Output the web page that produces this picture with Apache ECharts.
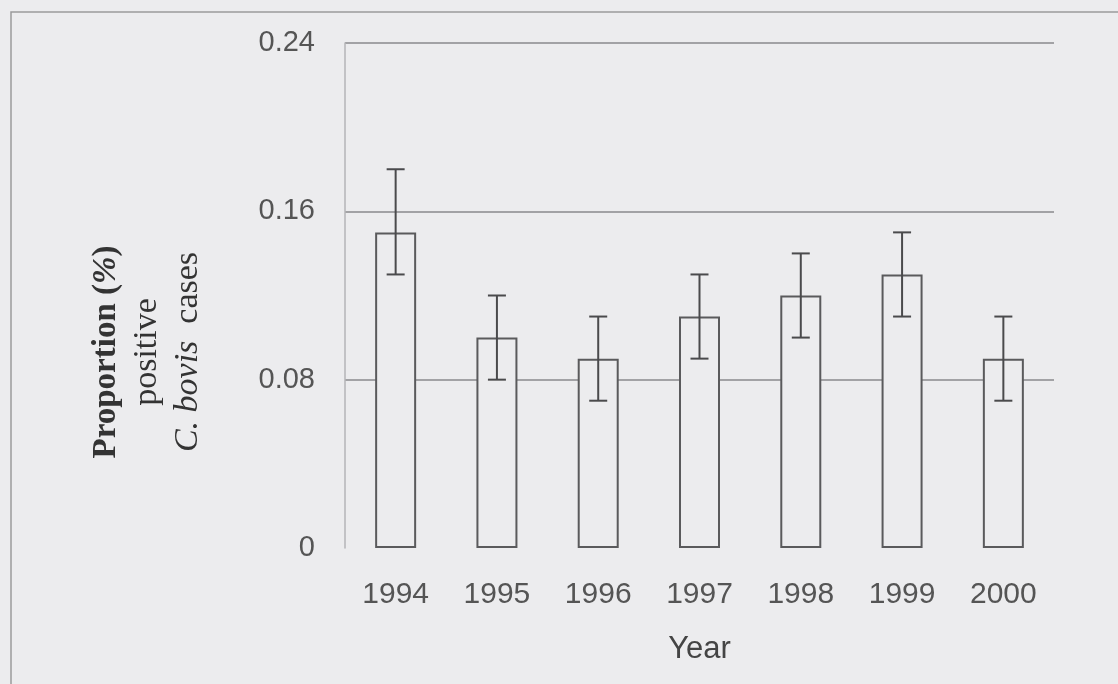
<!DOCTYPE html>
<html>
<head>
<meta charset="utf-8">
<style>
  html, body { margin: 0; padding: 0; background: #ececee; }
  #chart { width: 1118px; height: 684px; }
</style>
<script src="https://cdn.jsdelivr.net/npm/echarts@6/dist/echarts.min.js"></script>
</head>
<body>
<div id="chart"></div>
<script>
const years = ['1994', '1995', '1996', '1997', '1998', '1999', '2000'];
const proportion = [0.15, 0.10, 0.09, 0.11, 0.12, 0.13, 0.09];
const errLower = [0.13, 0.08, 0.07, 0.09, 0.10, 0.11, 0.07];
const errUpper = [0.18, 0.12, 0.11, 0.13, 0.14, 0.15, 0.11];
const yTicks = [0, 0.08, 0.16, 0.24];

const bg = '#ececee';
const chart = echarts.init(document.getElementById('chart'));

const errData = years.map((y, i) => [i, errLower[i], errUpper[i]]);

chart.setOption({
  backgroundColor: bg,
  animation: false,
  grid: { left: 345, right: 64, top: 43, bottom: 136 },
  graphic: [
    {
      type: 'rect',
      shape: { x: 11, y: 12, width: 1300, height: 900 },
      style: { fill: 'none', stroke: '#9a9a9c', lineWidth: 1.5 },
      silent: true
    },
    {
      type: 'text',
      x: 147,
      y: 352,
      rotation: Math.PI / 2,
      style: {
        text: '{b|Proportion (}{bi|%}{b|)}\n{n|positive}\n{i|C. bovis}{n|  cases}',
        align: 'center',
        verticalAlign: 'middle',
        fill: '#333',
        rich: {
          b: { fontFamily: 'Liberation Serif', fontWeight: 'bold', fontSize: 33, lineHeight: 41, fill: '#333' },
          bi: { fontFamily: 'Liberation Serif', fontWeight: 'bold', fontStyle: 'italic', fontSize: 33, lineHeight: 41, fill: '#333' },
          n: { fontFamily: 'Liberation Serif', fontSize: 34, lineHeight: 41, fill: '#333' },
          i: { fontFamily: 'Liberation Serif', fontStyle: 'italic', fontSize: 34, lineHeight: 41, fill: '#333' }
        }
      }
    }
  ],
  xAxis: {
    type: 'category',
    data: years,
    boundaryGap: true,
    axisLine: { show: false },
    axisTick: { show: false },
    axisLabel: {
      margin: 32,
      fontFamily: 'Liberation Sans',
      fontSize: 30,
      color: '#555'
    },
    name: 'Year',
    nameLocation: 'middle',
    nameGap: 86,
    nameTextStyle: {
      fontFamily: 'Liberation Sans',
      fontSize: 31,
      color: '#444'
    }
  },
  yAxis: {
    type: 'value',
    min: yTicks[0],
    max: yTicks[yTicks.length - 1],
    interval: yTicks[1] - yTicks[0],
    axisLine: { show: true, lineStyle: { color: '#b5b5b7', width: 1.5 } },
    axisTick: { show: false },
    axisLabel: {
      margin: 30,
      fontFamily: 'Liberation Sans',
      fontSize: 29,
      color: '#555',
      formatter: v => String(Math.round(v * 100) / 100)
    },
    splitLine: {
      show: true,
      showMinLine: false,
      lineStyle: { color: '#8a8a8c', width: 1.5 }
    }
  },
  series: [
    {
      type: 'bar',
      data: proportion,
      barWidth: 41,
      z: 2,
      itemStyle: { color: bg, borderColor: '#5a5a5c', borderWidth: 2 }
    },
    {
      type: 'custom',
      z: 3,
      data: errData,
      encode: { x: 0, y: [1, 2] },
      renderItem: function (params, api) {
        const xi = api.value(0);
        const lo = api.coord([xi, api.value(1)]);
        const hi = api.coord([xi, api.value(2)]);
        const cap = 9;
        const style = { stroke: '#4a4a4c', lineWidth: 2, fill: null };
        return {
          type: 'group',
          children: [
            { type: 'line', shape: { x1: hi[0], y1: hi[1], x2: lo[0], y2: lo[1] }, style },
            { type: 'line', shape: { x1: hi[0] - cap, y1: hi[1], x2: hi[0] + cap, y2: hi[1] }, style },
            { type: 'line', shape: { x1: lo[0] - cap, y1: lo[1], x2: lo[0] + cap, y2: lo[1] }, style }
          ]
        };
      }
    }
  ]
});
</script>
</body>
</html>
